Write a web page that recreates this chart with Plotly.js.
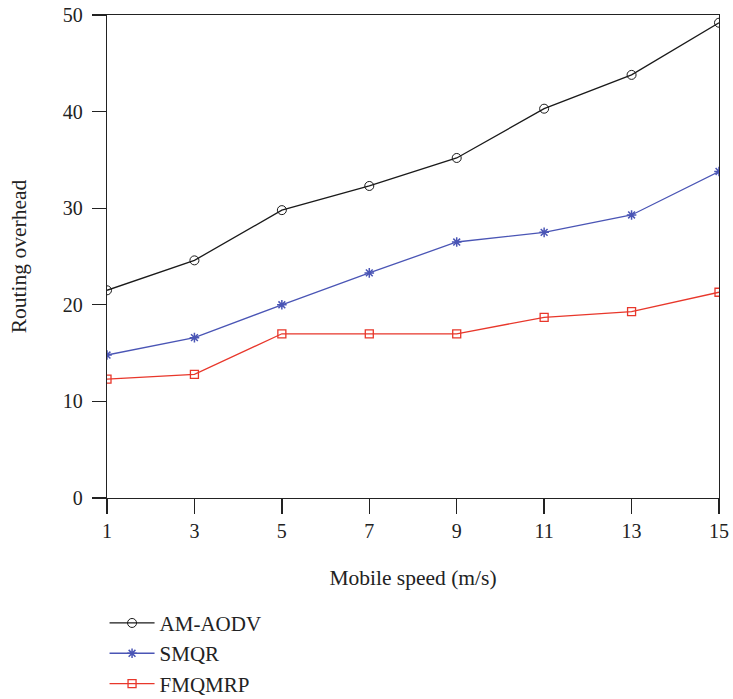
<!DOCTYPE html>
<html>
<head>
<meta charset="utf-8">
<script src="https://cdn.plot.ly/plotly-3.0.1.min.js"></script>
<style>html,body{margin:0;padding:0;background:#fff;}#chart{width:733px;height:699px;}</style>
</head>
<body>
<div id="chart"></div>
<script>
const speeds = [1, 3, 5, 7, 9, 11, 13, 15];
const amAodv = [21.5, 24.6, 29.8, 32.3, 35.2, 40.3, 43.8, 49.2];
const smqr = [14.8, 16.6, 20.0, 23.3, 26.5, 27.5, 29.3, 33.8];
const fmqmrp = [12.3, 12.8, 17.0, 17.0, 17.0, 18.7, 19.3, 21.3];
const xTicks = [1, 3, 5, 7, 9, 11, 13, 15];
const yTicks = [0, 10, 20, 30, 40, 50];

const FONT = 'Liberation Serif, Times New Roman, serif';

const traces = [
  {x: speeds, y: amAodv, name: 'AM-AODV', mode: 'lines+markers',
   line: {color: '#1a1a1a', width: 1.3},
   marker: {symbol: 'circle-open', size: 9, color: '#1a1a1a', line: {width: 1}}},
  {x: speeds, y: smqr, name: 'SMQR', mode: 'lines+markers',
   line: {color: '#4a55b5', width: 1.3},
   marker: {symbol: 'asterisk-open', size: 8, color: '#4a55b5', line: {width: 1.5}}},
  {x: speeds, y: fmqmrp, name: 'FMQMRP', mode: 'lines+markers',
   line: {color: '#e8372b', width: 1.3},
   marker: {symbol: 'square-open', size: 8, color: '#e8372b', line: {width: 1.3}}}
];

const layout = {
  width: 733, height: 699,
  margin: {l: 107, r: 14, t: 15, b: 201, autoexpand: false},
  paper_bgcolor: '#fff', plot_bgcolor: '#fff',
  font: {family: FONT, size: 21, color: '#222'},
  showlegend: true,
  legend: {x: -0.004, xanchor: 'left', y: -0.217, yanchor: 'top',
           orientation: 'v', traceorder: 'normal', itemwidth: 45,
           font: {family: FONT, size: 21, color: '#222'}, bgcolor: 'rgba(0,0,0,0)'},
  xaxis: {
    range: [1, 15], tickvals: xTicks, ticktext: xTicks.map(String),
    ticks: 'outside', ticklen: 15, tickwidth: 1.3, tickcolor: '#222',
    showline: true, linecolor: '#222', linewidth: 1.3, mirror: true,
    showgrid: false, zeroline: false,
    tickfont: {family: FONT, size: 20, color: '#222'},
    title: {text: 'Mobile speed (m/s)', font: {family: FONT, size: 21.5, color: '#222'}, standoff: 28}
  },
  yaxis: {
    range: [0, 50], tickvals: yTicks, ticktext: yTicks.map(String),
    ticks: 'outside', ticklen: 14, tickwidth: 1.3, tickcolor: '#222',
    showline: true, linecolor: '#222', linewidth: 1.3, mirror: true,
    showgrid: false, zeroline: false, ticklabelstandoff: 5,
    tickfont: {family: FONT, size: 20, color: '#222'},
    title: {text: 'Routing overhead', font: {family: FONT, size: 21.5, color: '#222'}, standoff: 30}
  }
};

Plotly.newPlot('chart', traces, layout, {displayModeBar: false, staticPlot: true});
</script>
</body>
</html>
